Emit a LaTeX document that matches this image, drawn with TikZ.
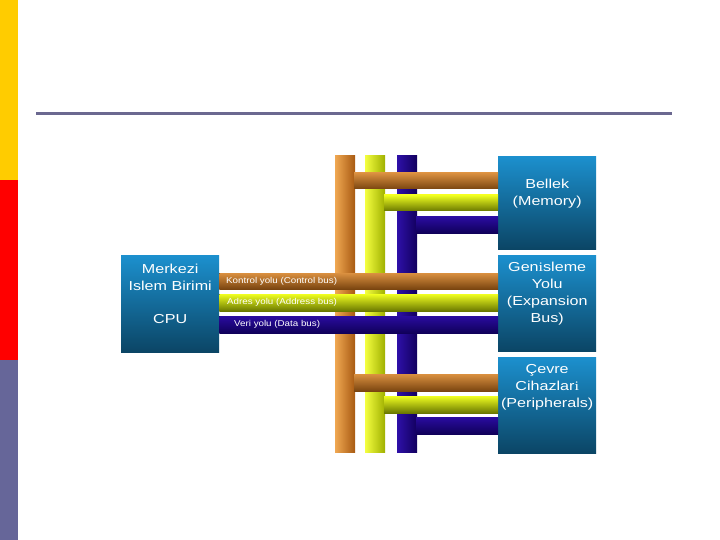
\documentclass[tikz,border=0pt]{standalone}
\usepackage{fontspec}
\usepackage{graphicx}
\setmainfont{Liberation Sans}
\newfontfamily\serifi{Liberation Serif}
\usetikzlibrary{calc}
\definecolor{stripY}{HTML}{FFCC00}
\definecolor{stripR}{HTML}{FF0000}
\definecolor{slate}{HTML}{666699}
\definecolor{rule}{HTML}{6B6890}
\definecolor{boxtop}{HTML}{1C90CE}
\definecolor{boxbot}{HTML}{0B4565}
\definecolor{orL}{HTML}{F0A852}
\definecolor{orD}{HTML}{A85A12}
\definecolor{orHT}{HTML}{DA9040}
\definecolor{orHB}{HTML}{7A4510}
\definecolor{ygL}{HTML}{F4FF40}
\definecolor{ygD}{HTML}{A0B000}
\definecolor{ygHT}{HTML}{F0FF20}
\definecolor{ygHB}{HTML}{6A7800}
\definecolor{blL}{HTML}{2E10A8}
\definecolor{blD}{HTML}{12005E}
\definecolor{blHT}{HTML}{2A0CA0}
\definecolor{blHB}{HTML}{10005A}
\newcommand\wide[1]{\scalebox{1.24}[1]{#1}}
\newcommand\wlab[1]{\scalebox{1.15}[1]{#1}}
\tikzset{
  unit/.style={draw=none, top color=boxtop, bottom color=boxbot, minimum width=98pt, minimum height=96pt, inner sep=0pt, anchor=north west},
  boxtext/.style={text=white, align=center, font=\fontsize{13}{17}\selectfont, anchor=north, inner sep=0pt},
  buslabel/.style={text=white, font=\fontsize{8.5}{10}\selectfont, anchor=west, inner sep=0pt},
  vOr/.style={left color=orL, right color=orD},
  vYg/.style={left color=ygL, right color=ygD},
  vBl/.style={left color=blL, right color=blD},
  hOr/.style={top color=orHT, bottom color=orHB},
  hYg/.style={top color=ygHT, bottom color=ygHB},
  hBl/.style={top color=blHT, bottom color=blHB},
}
\begin{document}
\begin{tikzpicture}[x=1pt,y=-1pt]
\useasboundingbox (0,0) rectangle (720,540);
\fill[white] (0,0) rectangle (720,540);
% side stripes
\fill[stripY] (0,0) rectangle (18,180);
\fill[stripR] (0,180) rectangle (18,360);
\fill[slate] (0,360) rectangle (18,540);
% title rule
\draw[rule, line width=3pt] (36,114) -- (672,114);
% boxes
\node[unit, minimum height=97pt] (cpu) at (121,255) {};
\node[unit, minimum height=93pt] (mem) at (498,156) {};
\node[unit] (exp) at (498,255) {};
\node[unit] (per) at (498,357) {};
% vertical bus bars
\fill[vOr] (335,156) rectangle (355,452);
\fill[vYg] (365,156) rectangle (385,452);
\fill[vBl] (397,156) rectangle (417,452);
% memory branches
\fill[hOr] (354,173) rectangle (mem.west |- 0,189);
\fill[hYg] (384,195) rectangle (mem.west |- 0,211);
\fill[hBl] (416,217) rectangle (mem.west |- 0,233);
% cpu buses through to expansion
\fill[hOr] (cpu.east |- 0,273) rectangle (exp.west |- 0,289);
\fill[hYg] (cpu.east |- 0,294) rectangle (exp.west |- 0,311);
\fill[hBl] (cpu.east |- 0,316) rectangle (exp.west |- 0,333);
% peripheral branches
\fill[hOr] (354,374) rectangle (per.west |- 0,391);
\fill[hYg] (384,396) rectangle (per.west |- 0,413);
\fill[hBl] (416,417) rectangle (per.west |- 0,434);
% bus labels
\node[buslabel] (lk) at (226,281) {\wlab{Kontrol yolu (Control bus)}};
\node[buslabel] (la) at (227,302.5) {\wlab{Adres yolu (Address bus)}};
\node[buslabel] (lv) at (234,324.5) {\wlab{Veri yolu (Data bus)}};
% box texts
\node[boxtext] (cput) at ($(cpu.north)+(0,8.5)$) {\wide{Merkezi}\\\wide{Islem Birimi}\\[16pt]\wide{CPU}};
\node[boxtext] (memt) at ($(mem.north)+(0,23)$) {\wide{Bellek}\\\wide{(Memory)}};
\node[boxtext] (expt) at ($(exp.north)+(0,7)$) {\wide{Gen{\serifi i}sleme}\\\wide{Yolu}\\\wide{(Expansion}\\\wide{Bus)}};
\node[boxtext] (pert) at ($(per.north)+(0,7)$) {\wide{Çevre}\\\wide{Cihazlar{\serifi i}}\\\wide{(Peripherals)}};
\end{tikzpicture}
\end{document}
